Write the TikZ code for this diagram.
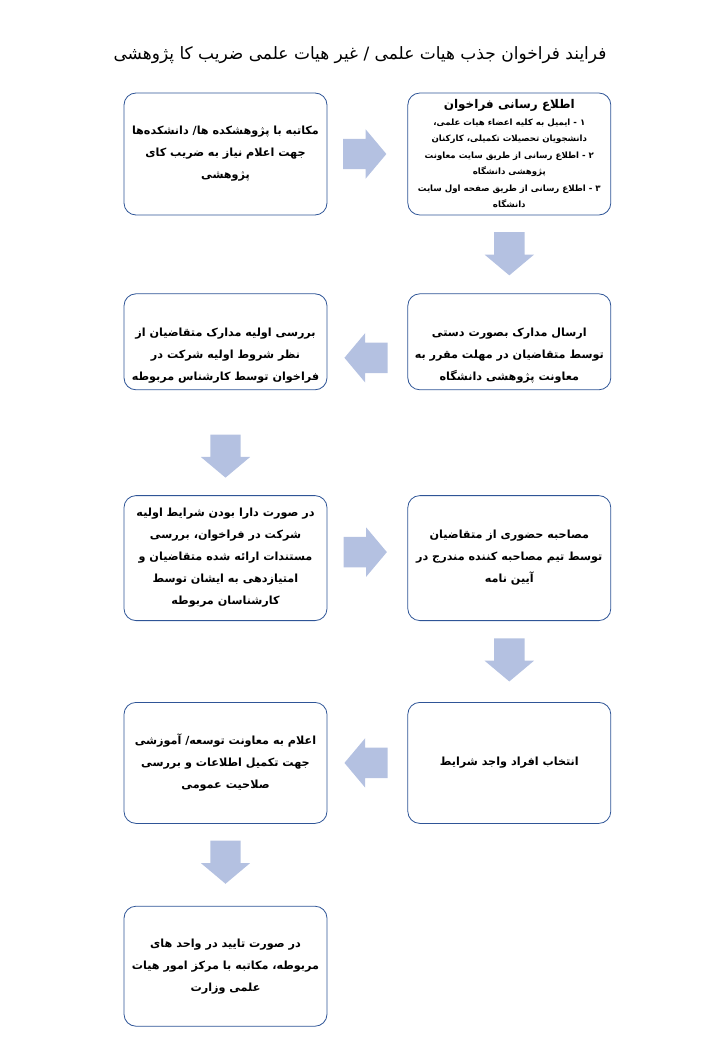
\documentclass[tikz,border=0pt]{standalone}
\usepackage{fontspec}
\usetikzlibrary{
positioning,
shapes.arrows,
calc
}
\TeXXeTstate=1
\newfontfamily\fafont[Script=Arabic]{DejaVu Sans}
\newcommand{\rl}[1]{\beginR #1\endR}
\definecolor{boxline}{HTML}{2F5597}
\definecolor{arrowfill}{HTML}{B4C1E1}

\begin{document}
\begin{tikzpicture}[
x=1pt, y=-1pt,
node distance=80pt,
stepbox/.style={
rectangle,
rounded corners=12pt,
draw=boxline,
line width=0.8pt,
fill=white,
minimum width=203pt,
align=center,
font=\fafont\bfseries\fontsize{11.2}{22}\selectfont
},
fatarrow/.style={
single arrow,
fill=arrowfill,
draw=none,
minimum height=43pt,
inner sep=15pt,
single arrow head extend=9.5pt,
single arrow tip angle=100
}
]
\useasboundingbox (0,0) rectangle (720,1040);

\node[font=\fafont\fontsize{17}{20}\selectfont] (title) at (360,55)
{\rl{فرایند فراخوان جذب هیات علمی / غیر هیات علمی ضریب کا پژوهشی}};

% row 1
\node[stepbox, minimum height=122pt] (call) at (225.5,154)
{\rl{مکاتبه با پژوهشکده ها/ دانشکده‌ها}\\
\rl{جهت اعلام نیاز به ضریب کای}\\
\rl{پژوهشی}};

\node[stepbox, minimum height=122pt, right=of call,
font=\fafont\bfseries\fontsize{8.6}{16.5}\selectfont] (notice)
{{\fontsize{12}{16.5}\selectfont\rl{اطلاع رسانی فراخوان}}\\
\rl{۱ - ایمیل به کلیه اعضاء هیات علمی،}\\
\rl{دانشجویان تحصیلات تکمیلی، کارکنان}\\
\rl{۲ - اطلاع رسانی از طریق سایت معاونت}\\
\rl{پژوهشی دانشگاه}\\
\rl{۳ - اطلاع رسانی از طریق صفحه اول سایت}\\
\rl{دانشگاه}};

% row 2
\node[stepbox, minimum height=96pt, below=78pt of notice] (submit)
{\rule{0pt}{36pt}\rl{ارسال مدارک بصورت دستی}\\
\rl{توسط متقاضیان در مهلت مقرر به}\\
\rl{معاونت پژوهشی دانشگاه}};

\node[stepbox, minimum height=96pt, left=of submit] (review)
{\rule{0pt}{36pt}\rl{بررسی اولیه مدارک متقاضیان از}\\
\rl{نظر شروط اولیه شرکت در}\\
\rl{فراخوان توسط کارشناس مربوطه}};

% row 3
\node[stepbox, minimum height=125pt, below=105pt of review] (score)
{\rl{در صورت دارا بودن شرایط اولیه}\\
\rl{شرکت در فراخوان، بررسی}\\
\rl{مستندات ارائه شده متقاضیان و}\\
\rl{امتیازدهی به ایشان توسط}\\
\rl{کارشناسان مربوطه}};

\node[stepbox, minimum height=125pt, right=of score] (interview)
{\rl{مصاحبه حضوری از متقاضیان}\\
\rl{توسط تیم مصاحبه کننده مندرج در}\\
\rl{آیین نامه}};

% row 4
\node[stepbox, minimum height=121pt, below=81pt of interview] (select)
{\rl{انتخاب افراد واجد شرایط}};

\node[stepbox, minimum height=121pt, left=of select] (inform)
{\rl{اعلام به معاونت توسعه/ آموزشی}\\
\rl{جهت تکمیل اطلاعات و بررسی}\\
\rl{صلاحیت عمومی}};

% row 5
\node[stepbox, minimum height=120pt, below=82pt of inform] (letter)
{\rl{در صورت تایید در واحد های}\\
\rl{مربوطه، مکاتبه با مرکز امور هیات}\\
\rl{علمی وزارت}};

% block arrows
\node[fatarrow, xshift=-9pt] (a1) at ($(call.east)!0.5!(notice.west)$) {};
\node[fatarrow, shape border rotate=270, yshift=7pt] (a2) at ($(notice.south)!0.5!(submit.north)$) {};
\node[fatarrow, shape border rotate=180, xshift=5pt, yshift=-16pt] (a3) at ($(submit.west)!0.5!(review.east)$) {};
\node[fatarrow, shape border rotate=270, yshift=-7pt] (a4) at ($(review.south)!0.5!(score.north)$) {};
\node[fatarrow, xshift=-8.5pt, yshift=6pt] (a5) at ($(score.east)!0.5!(interview.west)$) {};
\node[fatarrow, shape border rotate=270, yshift=8pt] (a6) at ($(interview.south)!0.5!(select.north)$) {};
\node[fatarrow, shape border rotate=180, xshift=5pt] (a7) at ($(select.west)!0.5!(inform.east)$) {};
\node[fatarrow, shape border rotate=270, yshift=9pt] (a8) at ($(inform.south)!0.5!(letter.north)$) {};

\end{tikzpicture}
\end{document}
